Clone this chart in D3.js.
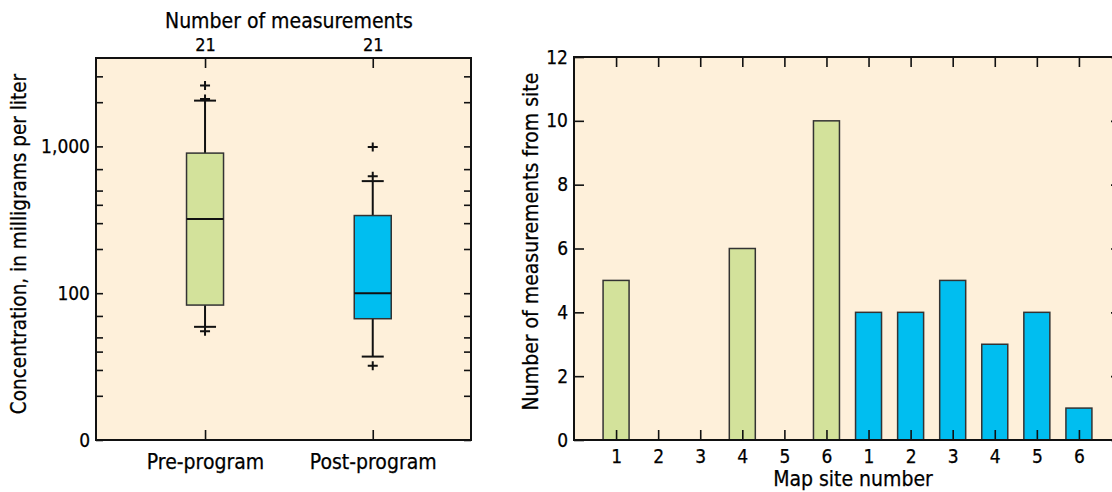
<!DOCTYPE html>
<html>
<head>
<meta charset="utf-8">
<script src="https://cdn.jsdelivr.net/npm/d3@7"></script>
<style>
  html, body { margin: 0; padding: 0; background: #fff; }
  svg { display: block; }
  text { font-family: "Liberation Sans Narrow", "Arial Narrow", "DejaVu Sans Condensed", sans-serif; fill: #000; stroke: #000; stroke-width: 0.25px; }
  .tick line { stroke: #111; stroke-width: 1.6; }
</style>
</head>
<body>
<svg id="chart" width="1112" height="492"></svg>
<script>
// ---- left panel: boxplots of concentration ----
const groups = ['Pre-program', 'Post-program'];
const groupCounts = [21, 21];
// five-number summaries (mg/L)
const whiskerLow = [59, 37];
const quartile1 = [83, 67];
const medians = [320, 100];
const quartile3 = [900, 338];
const whiskerHigh = [2050, 580];
const outliers = [[55, 2100, 2600], [32, 625, 990]];
const concMajorTicks = [10, 100, 1000];
const concMajorLabels = ['0', '100', '1,000'];
const concMinorTicks = [20, 30, 40, 50, 70, 200, 300, 400, 500, 700, 2000, 3000];

// ---- right panel: measurements per site ----
const siteLabels = ['1', '2', '3', '4', '5', '6', '1', '2', '3', '4', '5', '6'];
const sitePeriod = ['pre', 'pre', 'pre', 'pre', 'pre', 'pre', 'post', 'post', 'post', 'post', 'post', 'post'];
const siteCounts = [5, 0, 0, 6, 0, 10, 4, 4, 5, 3, 4, 1];
const countTicks = [0, 2, 4, 6, 8, 10, 12];

const BG = '#fef0da';
const GREEN = '#d3e29b';
const BLUE = '#00bef0';

const svg = d3.select('#chart');

// ===== Left panel =====
const L = { left: 96, right: 471, top: 58, bottom: 440 };
const x1 = d3.scalePoint().domain(groups).range([L.left, L.right]).padding(0.618).align(0.526);
const y1 = d3.scaleLog().domain([10, 4000]).range([L.bottom, L.top]);

const p1 = svg.append('g');
p1.append('rect')
  .attr('x', L.left).attr('y', L.top)
  .attr('width', L.right - L.left).attr('height', L.bottom - L.top)
  .attr('fill', BG);

function styleAxis(sel) {
  sel.select('.domain').remove();
  sel.selectAll('text').style('font-size', '19px').attr('fill', '#000');
}

// y ticks, left and right (inward)
p1.append('g').attr('transform', `translate(${L.left},0)`)
  .call(d3.axisLeft(y1).tickValues(concMajorTicks)
    .tickFormat((d, i) => concMajorLabels[i]).tickSize(-7).tickPadding(6))
  .call(styleAxis);
p1.append('g').attr('transform', `translate(${L.left},0)`)
  .call(d3.axisLeft(y1).tickValues(concMinorTicks).tickFormat('').tickSize(-7))
  .call(styleAxis);
p1.append('g').attr('transform', `translate(${L.right},0)`)
  .call(d3.axisRight(y1).tickValues(concMajorTicks.concat(concMinorTicks)).tickFormat('').tickSize(-7))
  .call(styleAxis);
// x ticks top and bottom
p1.append('g').attr('transform', `translate(0,${L.bottom})`)
  .call(d3.axisBottom(x1).tickSize(-10).tickPadding(14))
  .call(styleAxis)
  .selectAll('text').style('font-size', '21px');
p1.append('g').attr('transform', `translate(0,${L.top})`)
  .call(d3.axisTop(x1).tickSize(-10).tickFormat((d, i) => groupCounts[i]).tickPadding(7))
  .call(styleAxis)
  .selectAll('text').style('font-size', '18px');

p1.append('text')
  .attr('x', (x1(groups[0]) + x1(groups[1])) / 2).attr('y', 28)
  .attr('text-anchor', 'middle').style('font-size', '21px')
  .text('Number of measurements');

p1.append('text')
  .attr('transform', `translate(26,${(L.top + L.bottom) / 2 - 5}) rotate(-90)`)
  .attr('text-anchor', 'middle').style('font-size', '20.5px')
  .text('Concentration, in milligrams per liter');

// boxes
const boxW = 37, capW = 22;
const boxColors = [GREEN, BLUE];
groups.forEach((g, i) => {
  const cx = x1(g);
  const gb = p1.append('g');
  // whiskers
  gb.append('line').attr('x1', cx).attr('x2', cx)
    .attr('y1', y1(whiskerHigh[i])).attr('y2', y1(quartile3[i]))
    .attr('stroke', '#111').attr('stroke-width', 2);
  gb.append('line').attr('x1', cx).attr('x2', cx)
    .attr('y1', y1(quartile1[i])).attr('y2', y1(whiskerLow[i]))
    .attr('stroke', '#111').attr('stroke-width', 2);
  [whiskerHigh[i], whiskerLow[i]].forEach(v => {
    gb.append('line').attr('x1', cx - capW / 2).attr('x2', cx + capW / 2)
      .attr('y1', y1(v)).attr('y2', y1(v))
      .attr('stroke', '#111').attr('stroke-width', 2);
  });
  gb.append('rect')
    .attr('x', cx - boxW / 2).attr('width', boxW)
    .attr('y', y1(quartile3[i])).attr('height', y1(quartile1[i]) - y1(quartile3[i]))
    .attr('fill', boxColors[i]).attr('stroke', '#333').attr('stroke-width', 1.5);
  gb.append('line').attr('x1', cx - boxW / 2).attr('x2', cx + boxW / 2)
    .attr('y1', y1(medians[i])).attr('y2', y1(medians[i]))
    .attr('stroke', '#111').attr('stroke-width', 2);
  gb.selectAll('path.out').data(outliers[i]).join('path')
    .attr('class', 'out')
    .attr('d', v => `M${cx - 5},${y1(v)}H${cx + 5}M${cx},${y1(v) - 4.5}V${y1(v) + 4.5}`)
    .attr('stroke', '#111').attr('stroke-width', 2).attr('fill', 'none');
});

p1.append('rect')
  .attr('x', L.left).attr('y', L.top)
  .attr('width', L.right - L.left).attr('height', L.bottom - L.top)
  .attr('fill', 'none').attr('stroke', '#111').attr('stroke-width', 2);

// ===== Right panel =====
const R = { left: 574, right: 1121, top: 57, bottom: 440 };
const idx = d3.range(siteCounts.length);
const x2 = d3.scalePoint().domain(idx).range([R.left, R.right]).padding(1);
const y2 = d3.scaleLinear().domain([0, 12]).range([R.bottom, R.top]);

const p2 = svg.append('g');
p2.append('rect')
  .attr('x', R.left).attr('y', R.top)
  .attr('width', R.right - R.left).attr('height', R.bottom - R.top)
  .attr('fill', BG);

const barW = 26;
p2.selectAll('rect.bar').data(idx).join('rect')
  .attr('class', 'bar')
  .attr('x', i => x2(i) - barW / 2).attr('width', barW)
  .attr('y', i => y2(siteCounts[i])).attr('height', i => y2(0) - y2(siteCounts[i]))
  .attr('fill', i => sitePeriod[i] === 'pre' ? GREEN : BLUE)
  .attr('stroke', '#333').attr('stroke-width', 1.5);

p2.append('g').attr('transform', `translate(${R.left},0)`)
  .call(d3.axisLeft(y2).tickValues(countTicks).tickSize(-10).tickPadding(6))
  .call(styleAxis);
p2.append('g').attr('transform', `translate(${R.right},0)`)
  .call(d3.axisRight(y2).tickValues(countTicks).tickFormat('').tickSize(-10))
  .call(styleAxis);
p2.append('g').attr('transform', `translate(0,${R.bottom})`)
  .call(d3.axisBottom(x2).tickFormat(i => siteLabels[i]).tickSize(-10).tickPadding(10))
  .call(styleAxis);
p2.append('g').attr('transform', `translate(0,${R.top})`)
  .call(d3.axisTop(x2).tickFormat('').tickSize(-10))
  .call(styleAxis);

p2.append('rect')
  .attr('x', R.left).attr('y', R.top)
  .attr('width', R.right - R.left).attr('height', R.bottom - R.top)
  .attr('fill', 'none').attr('stroke', '#111').attr('stroke-width', 2);

p2.append('text')
  .attr('x', 853).attr('y', 486)
  .attr('text-anchor', 'middle').style('font-size', '21px')
  .text('Map site number');

p2.append('text')
  .attr('transform', `translate(538,${(R.top + R.bottom) / 2 - 7}) rotate(-90)`)
  .attr('text-anchor', 'middle').style('font-size', '21px')
  .text('Number of measurements from site');
</script>
</body>
</html>
